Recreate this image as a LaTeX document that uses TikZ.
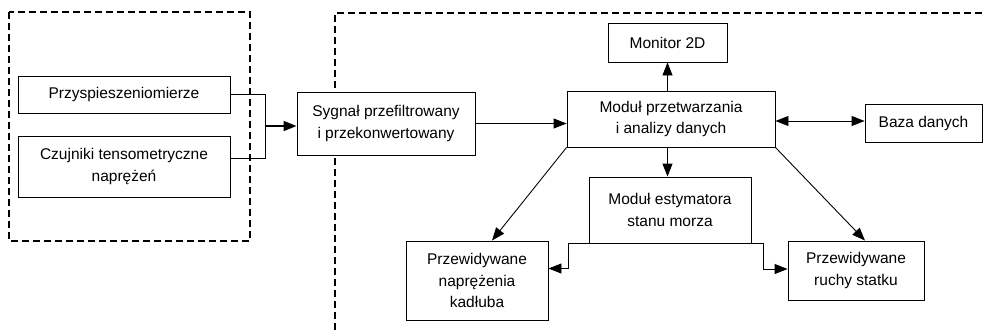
\documentclass[tikz,border=0pt]{standalone}
\usepackage{fontspec}
\setmainfont{Liberation Sans}
\usetikzlibrary{arrows.meta}
\tikzset{
  blok/.style={draw, fill=white, line width=0.9pt, align=center, inner sep=0pt,
    font=\fontsize{15.5}{21.5}\selectfont},
  strz/.style={line width=0.9pt, -{Triangle[length=13pt,width=10pt]}},
  ramka/.style={line width=1.2pt, dash pattern=on 7pt off 4pt}
}
\begin{document}
\begin{tikzpicture}[x=1pt,y=-1pt]
        \useasboundingbox (0,0) rectangle (984,330);
        \draw[ramka] (9,12) rectangle (250,241);
        \draw[ramka] (335,330) -- (335,13) -- (984,13);

        \node[blok, minimum width=212pt, minimum height=37pt] (przysp) at (124,94.5) {Przyspieszeniomierze};
        \node[blok, minimum width=212pt, minimum height=61pt] (czujniki) at (124,166.5) {Czujniki tensometryczne\\naprężeń};
        \node[blok, minimum width=178pt, minimum height=63pt] (sygnal) at (386,123.5) {Sygnał przefiltrowany\\i przekonwertowany};
        \node[blok, minimum width=208pt, minimum height=56pt] (przetw) at (671,119) {Moduł przetwarzania\\i analizy danych};
        \node[blok, minimum width=119pt, minimum height=39pt] (monitor) at (667.5,42.5) {Monitor 2D};
        \node[blok, minimum width=117pt, minimum height=38pt] (baza) at (923.5,123) {Baza danych};
        \node[blok, minimum width=162pt, minimum height=66pt] (estym) at (670,210) {Moduł estymatora\\stanu morza};
        \node[blok, minimum width=142pt, minimum height=79pt] (naprez) at (477,280.5) {Przewidywane\\naprężenia\\kadłuba};
        \node[blok, minimum width=136pt, minimum height=59pt] (ruchy) at (856,270.5) {Przewidywane\\ruchy statku};

        \coordinate (j) at (265,126);
        \draw[line width=0.9pt] (przysp.east) -| (j);
        \draw[line width=0.9pt] ([yshift=8.5pt]czujniki.east) -| (j);
        \draw[strz, line width=1.5pt] (j) -- (j -| sygnal.west);
        \draw[strz] (sygnal.east) -- (sygnal.east -| przetw.west);
        \draw[strz] (monitor.south |- przetw.north) -- (monitor.south);
        \draw[strz] (monitor.south |- przetw.south) -- (monitor.south |- estym.north);
        \draw[strz, {Triangle[length=13pt,width=10pt]}-{Triangle[length=13pt,width=10pt]}] ([yshift=-2pt]przetw.east) -- ([yshift=-2pt]przetw.east -| baza.west);
        \draw[strz] (przetw.south west) -- ([xshift=15pt]naprez.north);
        \draw[strz] (przetw.south east) -- ([xshift=9pt]ruchy.north);
        \draw[strz] (estym.south west) -- ++(-20,0) |- ([yshift=12pt]naprez.east);
        \draw[strz] (estym.south east) -- ++(12,0) |- ([yshift=1.5pt]ruchy.west);
\end{tikzpicture}
\end{document}
